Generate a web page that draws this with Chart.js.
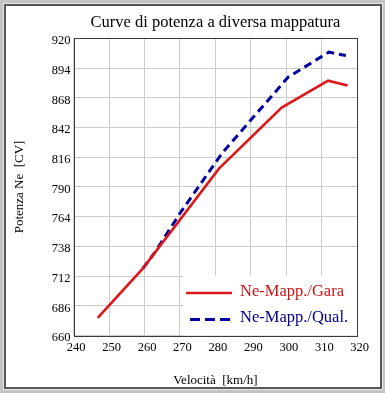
<!DOCTYPE html>
<html>
<head>
<meta charset="utf-8">
<script src="https://cdn.jsdelivr.net/npm/chart.js@4/dist/chart.umd.min.js"></script>
<style>
  html, body { margin: 0; padding: 0; background: #c4c4c4; }
  #wrap { position: relative; width: 385px; height: 393px; }
</style>
</head>
<body>
<div id="wrap"><canvas id="c" width="385" height="393"></canvas></div>
<script>
// ---- data ----
const chartTitle = "Curve di potenza a diversa mappatura";
const xTitle = "Velocità  [km/h]";
const yTitle = "Potenza Ne  [CV]";
const seriesNames = ["Ne-Mapp./Gara", "Ne-Mapp./Qual."];

const speedGara = [246.8, 259.5, 281, 298.7, 311.8, 317.3];
const powerGara = [675.5, 718.5, 806, 859.4, 883, 878.7];

const speedQual = [259.5, 263, 270, 282, 300.5, 312, 316.8];
const powerQual = [718.5, 733, 767, 820, 886, 908, 905];

const xTicks = [240, 250, 260, 270, 280, 290, 300, 310, 320];
const yTicks = [660, 686, 712, 738, 764, 790, 816, 842, 868, 894, 920];

const RED = "#dc1818";
const BLUE = "#0000a0";
const SERIF = "'Liberation Serif', 'Times New Roman', serif";

const toPoints = (xs, ys) => xs.map((x, i) => ({ x: x, y: ys[i] }));

const framePlugin = {
  id: 'frame',
  beforeDraw(chart) {
    const ctx = chart.ctx;
    ctx.save();
    ctx.fillStyle = '#c4c4c4';
    ctx.fillRect(0, 0, chart.width, chart.height);
    ctx.fillStyle = '#e8e8e8';
    ctx.fillRect(3, 3, 380, 387);
    ctx.fillStyle = '#575757';
    ctx.fillRect(4, 4, 378, 385);
    ctx.fillStyle = '#ffffff';
    ctx.fillRect(6, 6, 374, 381);
    ctx.restore();
  },
  afterDatasetsDraw(chart) {
    const ctx = chart.ctx;
    const a = chart.chartArea;
    // legend box
    const bx = 183, by = 275.5;
    ctx.save();
    ctx.fillStyle = '#ffffff';
    ctx.fillRect(bx, by, a.right - bx, a.bottom - by);
    const rows = [
      { y: 293, ty: 296, ds: chart.data.datasets[0], tc: '#cc1414', x0: 186, x1: 232, dash: [] },
      { y: 319.5, ty: 322, ds: chart.data.datasets[1], tc: '#00008c', x0: 190, x1: 230, dash: [10, 5] }
    ];
    ctx.font = "16.5px " + SERIF;
    ctx.textBaseline = 'alphabetic';
    ctx.textAlign = 'left';
    rows.forEach(r => {
      ctx.beginPath();
      ctx.strokeStyle = r.ds.borderColor;
      ctx.lineWidth = r.ds.borderWidth;
      ctx.setLineDash(r.dash);
      ctx.moveTo(r.x0, r.y); ctx.lineTo(r.x1, r.y);
      ctx.stroke();
      ctx.setLineDash([]);
      ctx.fillStyle = r.tc;
      ctx.fillText(r.ds.label, 240, r.ty);
    });
    ctx.restore();
  },
  afterDraw(chart) {
    const ctx = chart.ctx;
    const a = chart.chartArea;
    ctx.save();
    ctx.strokeStyle = '#3a3a3a';
    ctx.lineWidth = 1;
    ctx.strokeRect(Math.round(a.left) + 0.5, Math.round(a.top) + 0.5,
                   Math.round(a.right) - Math.round(a.left), Math.round(a.bottom) - Math.round(a.top));
    ctx.restore();
  }
};

new Chart(document.getElementById('c'), {
  type: 'line',
  data: {
    datasets: [
      {
        label: seriesNames[0],
        data: toPoints(speedGara, powerGara),
        borderColor: RED,
        borderWidth: 2.6,
        pointRadius: 0,
        tension: 0,
        fill: false
      },
      {
        label: seriesNames[1],
        data: toPoints(speedQual, powerQual),
        borderColor: BLUE,
        borderWidth: 3,
        borderDash: [8, 5],
        pointRadius: 0,
        tension: 0,
        fill: false
      }
    ]
  },
  options: {
    responsive: false,
    animation: false,
    events: [],
    layout: { padding: { left: 0, top: 0, right: 27.8, bottom: 0 } },
    plugins: {
      legend: { display: false },
      tooltip: { enabled: false },
      title: {
        display: true,
        text: chartTitle,
        fullSize: false,
        color: '#000',
        font: { family: SERIF, size: 16.5, weight: 'normal', lineHeight: 1.2 },
        padding: { top: 12.4, bottom: 6.2 }
      }
    },
    scales: {
      x: {
        type: 'linear',
        min: 240, max: 320,
        afterBuildTicks: s => { s.ticks = xTicks.map(v => ({ value: v })); },
        afterFit: s => { s.height = 57.5; },
        grid: { color: '#cccccc', lineWidth: 1, drawTicks: false },
        border: { display: false },
        ticks: {
          color: '#000', padding: 5, labelOffset: 2.5, maxRotation: 0,
          font: { family: SERIF, size: 12.5 }
        },
        title: {
          display: true, text: xTitle, color: '#000',
          font: { family: SERIF, size: 13 },
          padding: { top: 0, bottom: 5 }
        }
      },
      y: {
        type: 'linear',
        min: 660, max: 920,
        afterBuildTicks: s => { s.ticks = yTicks.map(v => ({ value: v })); },
        afterFit: s => { s.width = 73.6; },
        grid: { color: '#cccccc', lineWidth: 1, drawTicks: false },
        border: { display: false },
        ticks: {
          color: '#000', padding: 3, labelOffset: 2.5,
          font: { family: SERIF, size: 12.5 }
        },
        title: {
          display: true, text: yTitle, color: '#000',
          font: { family: SERIF, size: 13 },
          padding: { top: 12, bottom: 0 }
        }
      }
    }
  },
  plugins: [framePlugin]
});
</script>
</body>
</html>
